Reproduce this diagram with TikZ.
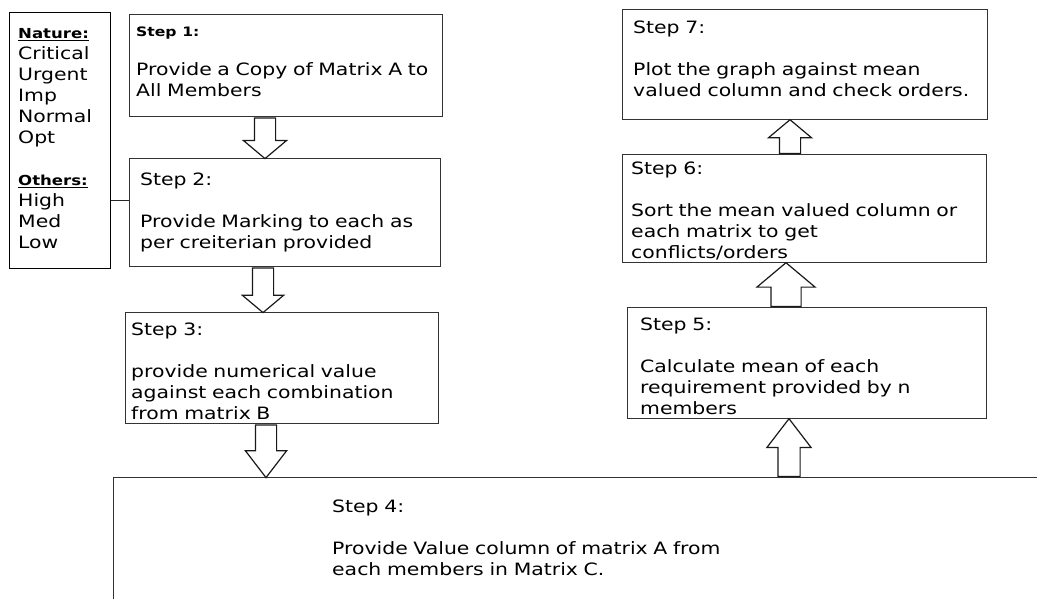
\documentclass[tikz,border=0pt]{standalone}
\usepackage{fontspec}
\setmainfont{DejaVu Sans}[FakeStretch=1.2]
\usetikzlibrary{calc, shapes.arrows}

\tikzset{
  stepbox/.style={draw=black!80, line width=1.3pt, anchor=north west, inner sep=0pt},
  steptext/.style={anchor=north west, align=left, inner sep=0pt, text width=#1,
    font=\fontsize{17}{21}\selectfont},
  steptext/.default=340pt,
  bigarrow/.style={single arrow, draw=black!90, line width=1.2pt, fill=white,
    inner xsep=0pt, inner ysep=10pt, minimum width=42pt, single arrow head extend=11pt,
    single arrow tip angle=100, anchor=tail},
  link/.style={draw=black!85, line width=1.2pt},
}
\newcommand{\hd}[2][13.8]{{\fontsize{#1}{21}\selectfont\bfseries #2}}
% outlined block arrow from #2 to #3, named #4
\newcommand{\blockarrow}[4][]{%
  \path let \p1=(#2), \p2=(#3),
    \n1={veclen(\x2-\x1,\y2-\y1)}, \n2={atan2(\y2-\y1,\x2-\x1)} in
    node[bigarrow, #1, minimum height=\n1, rotate=\n2] (#4) at (\p1) {};}

\begin{document}
\begin{tikzpicture}[x=1pt, y=-1pt]
\clip (0,0) rectangle (1037,598);
\fill[white] (0,0) rectangle (1037,598);

% legend
\node[stepbox, draw=black, minimum width=101pt, minimum height=256pt] (legend) at (9,12) {};
\node[steptext=90pt] (legendtext) at (18,28) {\hd{\underline{Nature:}}\\Critical\\Urgent\\Imp\\Normal\\Opt\\[21pt]\hd{\underline{Others:}}\\High\\Med\\Low};

% boxes
\node[stepbox, minimum width=313pt, minimum height=102pt] (s1) at (129,14) {};
\node[stepbox, minimum width=311pt, minimum height=108pt] (s2) at (129,158) {};
\node[stepbox, minimum width=313pt, minimum height=111pt] (s3) at (125,312) {};
\node[stepbox, minimum width=960pt, minimum height=160pt] (s4) at (113,477) {};
\node[stepbox, minimum width=359pt, minimum height=111pt] (s5) at (627,307) {};
\node[stepbox, minimum width=364pt, minimum height=108pt] (s6) at (622,154) {};
\node[stepbox, minimum width=365pt, minimum height=110pt] (s7) at (622,9) {};

% texts
\node[steptext] (s1t) at (136,27) {\hd[13]{Step 1:}\\[18pt]Provide a Copy of Matrix A to\\All Members};
\node[steptext] (s2t) at (140,173) {Step 2:\\[21pt]Provide Marking to each as\\per creiterian provided};
\node[steptext] (s3t) at (131,323) {Step 3:\\[21pt]provide numerical value\\against each combination\\from matrix B};
\node[steptext=420pt] (s4t) at (332,500) {Step 4:\\[21pt]Provide Value column of matrix A from\\each members in Matrix C.};
\node[steptext] (s5t) at (640,318) {Step 5:\\[21pt]Calculate mean of each\\requirement provided by n\\members};
\node[steptext] (s6t) at (631,162) {Step 6:\\[21pt]Sort the mean valued column or\\each matrix to get\\conflicts/orders};
\node[steptext] (s7t) at (633,21) {Step 7:\\[21pt]Plot the graph against mean\\valued column and check orders.};

% legend tie
\coordinate (tie) at ($(legend.east |- s2.west)+(0,-12)$);
\draw[link] (tie) -- (tie -| s2.west);

% arrows
\coordinate (x12) at (265,0);
\coordinate (x23) at (263,0);
\coordinate (x34) at (266,0);
\coordinate (x45) at (789,0);
\coordinate (x56) at (786,0);
\coordinate (x67) at (790,0);
\blockarrow{x12 |- s1.south}{x12 |- s2.north}{a12}
\blockarrow[minimum width=40pt, single arrow head extend=10pt]{x23 |- s2.south}{x23 |- s3.north}{a23}
\blockarrow[minimum width=40pt, single arrow head extend=10pt, single arrow tip angle=75]{x34 |- s3.south}{x34 |- s4.north}{a34}
\blockarrow[inner ysep=10.5pt, single arrow tip angle=75]{x45 |- s4.north}{x45 |- s5.south}{a45}
\blockarrow[inner ysep=14.5pt, minimum width=57pt, single arrow head extend=14pt]{x56 |- s5.north}{x56 |- s6.south}{a56}
\blockarrow{x67 |- s6.north}{x67 |- s7.south}{a67}

\end{tikzpicture}
\end{document}
